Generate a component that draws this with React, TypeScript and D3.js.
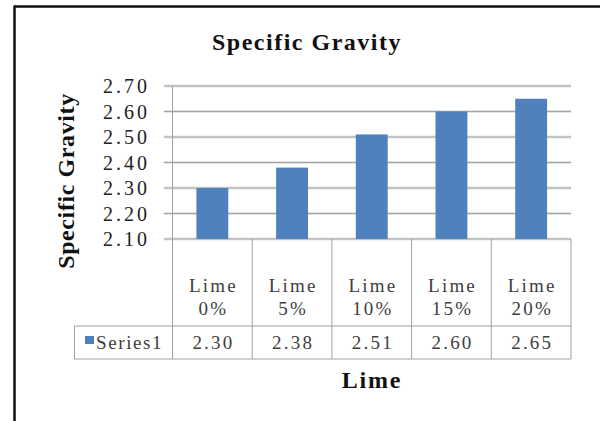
import React from "react";
import * as d3 from "d3";

const categories = ["Lime 0%", "Lime 5%", "Lime 10%", "Lime 15%", "Lime 20%"];
const series1 = [2.3, 2.38, 2.51, 2.6, 2.65];
const seriesName = "Series1";
const yTicks = [2.1, 2.2, 2.3, 2.4, 2.5, 2.6, 2.7];
const chartTitle = "Specific Gravity";
const yTitle = "Specific Gravity";
const xTitle = "Lime";

const W = 600;
const H = 421;
const plotLeft = 172.5;
const plotRight = 571;
const plotTop = 86;
const plotBottom = 239;
const tickLeft = 164;
const rowTop = 326;
const tableBottom = 359;
const legendLeft = 74.5;
const barColor = "#4F81BD";
const gridColor = "#a3a3a3";
const tableColor = "#a0a0a0";

export default function App() {
  const x = d3.scaleBand<string>().domain(categories).range([plotLeft, plotRight]).paddingInner(0.6).paddingOuter(0.3);
  const xCell = d3.scaleBand<string>().domain(categories).range([plotLeft, plotRight]);
  const y = d3.scaleLinear().domain([2.1, 2.7]).range([plotBottom, plotTop]);

  const tableFont = "'Liberation Serif', 'Times New Roman', serif";
  const boldFont = "'Liberation Serif', 'Times New Roman', serif";
  const tls = 2.2;

  return (
    <svg
      width={W}
      height={H}
      viewBox={`0 0 ${W} ${H}`}
      style={{ position: "absolute", left: 0, top: 0, display: "block", background: "#fff" }}
    >
      <rect x={0} y={0} width={W} height={H} fill="#fff" />
      {/* outer frame */}
      <line x1={14.5} x2={W} y1={6.5} y2={6.5} stroke="#111" strokeWidth={2.5} />
      <line x1={14.5} x2={14.5} y1={5.5} y2={H} stroke="#111" strokeWidth={2.5} />

      {/* title */}
      <text x={307} y={50} textAnchor="middle" fontFamily={boldFont} fontWeight="bold" fontSize={24} letterSpacing={1.5} fill="#111">
        {chartTitle}
      </text>

      {/* gridlines */}
      {yTicks.map((t) => (
        <g key={t}>
          <line x1={tickLeft} x2={plotRight} y1={y(t)} y2={y(t)} stroke="#e4e4e4" strokeWidth={3} />
          <line x1={tickLeft} x2={plotRight} y1={y(t)} y2={y(t)} stroke={gridColor} strokeWidth={1} />
        </g>
      ))}

      {/* y tick labels */}
      {yTicks.map((t) => (
        <text key={"l" + t} x={150} y={y(t)} dy="0.35em" textAnchor="end" fontFamily={boldFont} fontSize={20} letterSpacing={3} fill="#222">
          {t.toFixed(2)}
        </text>
      ))}

      {/* y axis line */}
      <line x1={plotLeft} x2={plotLeft} y1={plotTop} y2={plotBottom} stroke={gridColor} strokeWidth={1} />

      {/* bars */}
      {categories.map((c, i) => (
        <rect
          key={c}
          x={x(c)!}
          y={y(series1[i])}
          width={x.bandwidth()}
          height={y(2.1) - y(series1[i])}
          fill={barColor}
        />
      ))}

      {/* y title */}
      <text
        transform={`translate(74,181) rotate(-90)`}
        textAnchor="middle"
        fontFamily={boldFont}
        fontWeight="bold"
        fontSize={24}
        letterSpacing={0.6}
        fill="#111"
      >
        {yTitle}
      </text>

      {/* data table */}
      <g stroke={tableColor} strokeWidth={1} fill="none">
        <line x1={plotLeft} x2={plotLeft} y1={plotBottom} y2={tableBottom} />
        {categories.map((c) => (
          <line key={"v" + c} x1={xCell(c)! + xCell.bandwidth()} x2={xCell(c)! + xCell.bandwidth()} y1={plotBottom} y2={tableBottom} />
        ))}
        <line x1={legendLeft} x2={plotRight} y1={rowTop} y2={rowTop} />
        <line x1={legendLeft} x2={plotRight} y1={tableBottom} y2={tableBottom} />
        <line x1={legendLeft} x2={legendLeft} y1={rowTop} y2={tableBottom} />
      </g>

      {categories.map((c) => {
        const parts = c.split(" ");
        const cx = xCell(c)! + xCell.bandwidth() / 2 + tls / 2;
        return (
          <text key={"c" + c} textAnchor="middle" fontFamily={tableFont} fontSize={19} letterSpacing={tls} fill="#404040">
            <tspan x={cx} y={291.5}>{parts[0]}</tspan>
            <tspan x={cx} y={315}>{parts[1]}</tspan>
          </text>
        );
      })}

      {categories.map((c, i) => (
        <text key={"val" + c} x={xCell(c)! + xCell.bandwidth() / 2 + tls / 2} y={349} textAnchor="middle" fontFamily={tableFont} fontSize={19} letterSpacing={tls} fill="#404040">
          {series1[i].toFixed(2)}
        </text>
      ))}

      <rect x={85} y={336} width={9} height={8} fill={barColor} />
      <text x={96} y={349} fontFamily={tableFont} fontSize={19} letterSpacing={1.6} fill="#404040">
        {seriesName}
      </text>

      {/* x title */}
      <text x={372} y={388} textAnchor="middle" fontFamily={boldFont} fontWeight="bold" fontSize={24} letterSpacing={1.8} fill="#111">
        {xTitle}
      </text>
    </svg>
  );
}
